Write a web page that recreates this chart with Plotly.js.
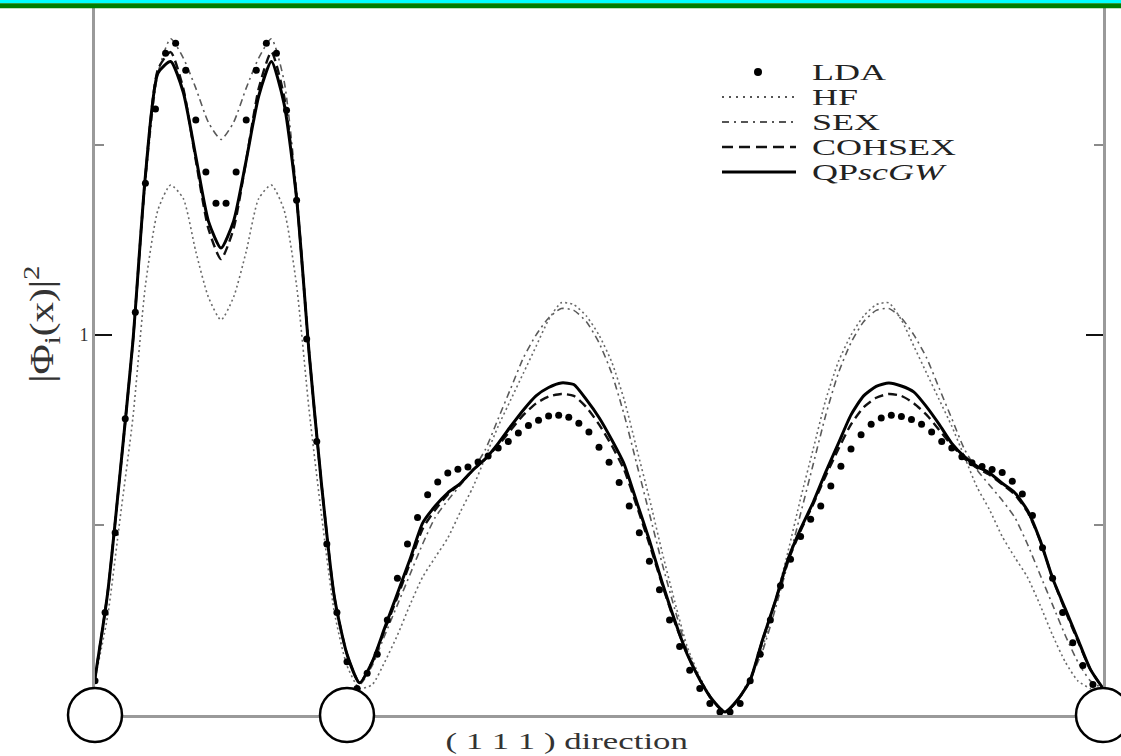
<!DOCTYPE html>
<html>
<head>
<meta charset="utf-8">
<script src="https://cdn.plot.ly/plotly-3.0.1.min.js"></script>
<style>
html,body{margin:0;padding:0;background:#fff;}
#plot{width:1121px;height:756px;}
</style>
</head>
<body>
<div id="plot"></div>
<script>
// Position along the (1 1 1) body diagonal (fraction of the diagonal)
const xLine = [0,0.0125,0.025,0.0375,0.05,0.0625,0.075,0.0875,0.1,0.1125,0.125,0.1375,0.15,0.1625,0.175,0.1875,0.2,0.2125,0.225,0.2375,
  0.25,0.2625,0.275,0.2875,0.3,0.3125,0.325,0.3375,0.35,0.3625,0.375,0.3875,0.4,0.4125,0.425,0.4375,0.45,0.4625,0.475,0.4875,
  0.5,0.5125,0.525,0.5375,0.55,0.5625,0.575,0.5875,0.6,0.6125,0.625,0.6375,0.65,0.6625,0.675,0.6875,0.7,0.7125,0.725,0.7375,
  0.75,0.7625,0.775,0.7875,0.8,0.8125,0.825,0.8375,0.85,0.8625,0.875,0.8875,0.9,0.9125,0.925,0.9375,0.95,0.9625,0.975,0.9875,1];

const hfY = [0.095,0.26,0.52,0.78,1.13,1.33,1.395,1.36,1.22,1.10,1.04,1.10,1.22,1.36,1.395,1.33,1.13,0.80,0.52,0.27,
  0.13,0.07,0.08,0.14,0.21,0.29,0.363,0.415,0.466,0.535,0.60,0.68,0.76,0.83,0.90,0.97,1.04,1.085,1.08,1.05,
  1.00,0.93,0.83,0.70,0.57,0.43,0.30,0.18,0.10,0.04,0.01,0.04,0.10,0.18,0.30,0.43,0.57,0.70,0.83,0.93,
  1.00,1.05,1.08,1.085,1.04,0.97,0.90,0.83,0.76,0.68,0.60,0.54,0.47,0.415,0.363,0.29,0.21,0.14,0.09,0.07,0.065];

const sexY = [0.095,0.32,0.64,0.98,1.40,1.69,1.78,1.73,1.65,1.56,1.515,1.56,1.65,1.73,1.78,1.67,1.38,0.96,0.60,0.31,
  0.16,0.08,0.13,0.21,0.29,0.37,0.45,0.52,0.565,0.605,0.645,0.70,0.78,0.86,0.94,1.00,1.045,1.07,1.065,1.035,
  0.98,0.90,0.79,0.66,0.53,0.40,0.28,0.17,0.095,0.035,0.008,0.035,0.095,0.17,0.28,0.40,0.53,0.66,0.79,0.90,
  0.98,1.035,1.065,1.07,1.045,1.00,0.94,0.86,0.78,0.70,0.645,0.605,0.565,0.52,0.45,0.37,0.29,0.21,0.14,0.09,0.07];

const cohsexY = [0.097,0.32,0.64,0.98,1.42,1.70,1.745,1.65,1.46,1.28,1.20,1.28,1.46,1.65,1.745,1.63,1.36,0.95,0.60,0.31,
  0.16,0.085,0.14,0.225,0.31,0.40,0.49,0.54,0.58,0.61,0.645,0.675,0.71,0.75,0.79,0.82,0.838,0.845,0.84,0.81,
  0.765,0.71,0.645,0.55,0.45,0.345,0.245,0.16,0.093,0.04,0.008,0.04,0.092,0.20,0.30,0.405,0.485,0.555,0.63,0.70,
  0.765,0.81,0.835,0.845,0.84,0.82,0.79,0.75,0.71,0.675,0.65,0.632,0.607,0.58,0.535,0.46,0.36,0.275,0.195,0.12,0.07];

const qpY = [0.097,0.32,0.64,0.98,1.42,1.69,1.72,1.64,1.47,1.30,1.229,1.30,1.46,1.63,1.72,1.61,1.36,0.95,0.60,0.31,
  0.16,0.085,0.14,0.23,0.32,0.41,0.505,0.55,0.585,0.61,0.645,0.675,0.715,0.76,0.803,0.84,0.862,0.874,0.87,0.83,
  0.783,0.725,0.66,0.56,0.46,0.35,0.25,0.16,0.093,0.04,0.008,0.04,0.092,0.20,0.30,0.41,0.49,0.56,0.64,0.715,
  0.79,0.84,0.865,0.874,0.866,0.85,0.811,0.765,0.715,0.68,0.655,0.637,0.61,0.585,0.539,0.461,0.36,0.28,0.20,0.12,0.07];

const xLDA = [0,0.01,0.02,0.03,0.04,0.05,0.06,0.07,0.08,0.09,0.1,0.11,0.12,0.13,0.14,0.15,0.16,0.17,0.18,0.19,
  0.2,0.21,0.22,0.23,0.24,0.25,0.26,0.27,0.28,0.29,0.3,0.31,0.32,0.33,0.34,0.35,0.36,0.37,0.38,0.39,
  0.4,0.41,0.42,0.43,0.44,0.45,0.46,0.47,0.48,0.49,0.5,0.51,0.52,0.53,0.54,0.55,0.56,0.57,0.58,0.59,
  0.6,0.61,0.62,0.63,0.64,0.65,0.66,0.67,0.68,0.69,0.7,0.71,0.72,0.73,0.74,0.75,0.76,0.77,0.78,0.79,
  0.8,0.81,0.82,0.83,0.84,0.85,0.86,0.87,0.88,0.89,0.9,0.91,0.92,0.93,0.94,0.95,0.96,0.97,0.98,0.99,1];

const ldaY = [0.09,0.27,0.48,0.78,1.06,1.40,1.595,1.742,1.768,1.697,1.566,1.429,1.347,1.347,1.429,1.566,1.697,1.768,1.742,1.592,
  1.355,0.99,0.72,0.45,0.27,0.14,0.07,0.11,0.16,0.25,0.36,0.45,0.52,0.58,0.613,0.637,0.647,0.653,0.666,0.682,
  0.703,0.72,0.742,0.762,0.776,0.787,0.789,0.784,0.768,0.745,0.705,0.665,0.612,0.55,0.48,0.405,0.33,0.25,0.18,0.118,
  0.07,0.03,0.008,0.008,0.03,0.09,0.16,0.25,0.34,0.41,0.47,0.515,0.55,0.603,0.655,0.70,0.738,0.765,0.782,0.789,
  0.786,0.778,0.765,0.745,0.72,0.703,0.68,0.664,0.654,0.646,0.638,0.615,0.582,0.525,0.44,0.36,0.27,0.19,0.13,0.08,0.06];

// atom sites on the diagonal
const atomX = [0, 0.25, 1];
const atomY = [0, 0, 0];

const seriesNames = ['LDA','HF','SEX','COHSEX','QP<i>scGW</i>'];
const yTitleText = '|Φ<sub>i</sub>(x)|<sup>2</sup>';
const xTitleText = '( 1 1 1 ) direction';
const yTickVals = [1];
const yTickText = ['1'];
const yMinorVals = [0.5, 1.5];

// ---- geometry helpers (pixel -> paper) ----
const L = 95, R = 18, T = 8, B = 41, W = 1121, H = 756;
const PW = W - L - R, PH = H - T - B;
const px = x => (x - L) / PW;
const py = y => (H - B - y) / PH;

const FONT = 'Liberation Serif, Times New Roman, serif';

const traces = [
  {x:xLine, y:hfY, name:seriesNames[1], mode:'lines', line:{color:'#6a6a6a', width:1.6, dash:'2px,3px', shape:'spline', smoothing:0.6}, hoverinfo:'skip'},
  {x:xLine, y:sexY, name:seriesNames[2], mode:'lines', line:{color:'#5a5a5a', width:1.6, dash:'7px,4px,2px,4px', shape:'spline', smoothing:0.6}, hoverinfo:'skip'},
  {x:xLine, y:cohsexY, name:seriesNames[3], mode:'lines', line:{color:'#111', width:2.4, dash:'9px,5px', shape:'spline', smoothing:0.6}, hoverinfo:'skip'},
  {x:xLine, y:qpY, name:seriesNames[4], mode:'lines', line:{color:'#000', width:3, shape:'spline', smoothing:0.6}, hoverinfo:'skip'},
  {x:xLDA, y:ldaY, name:seriesNames[0], mode:'markers', marker:{color:'#000', size:7, symbol:'circle'}, hoverinfo:'skip'},
  {x:atomX, y:atomY, name:'atoms', mode:'markers', cliponaxis:false, marker:{symbol:'circle', size:54, color:'#fff', line:{color:'#000', width:2.5}}, hoverinfo:'skip'}
];

// manual legend layout
const legRows = [72, 97, 122, 147, 172];
const legLineX0 = 722, legLineX1 = 796, legTextX = 810;
const legStyles = [
  null,
  {color:'#555', width:1.8, dash:'2px,5px'},
  {color:'#555', width:1.8, dash:'7px,5px,2px,5px'},
  {color:'#111', width:2.6, dash:'11px,6px'},
  {color:'#000', width:3}
];

const shapes = [
  {type:'rect', xref:'paper', yref:'paper', x0:-0.2, x1:1.2, y0:py(3.3), y1:py(-5), fillcolor:'#00ffff', line:{width:0}, layer:'above'},
  {type:'rect', xref:'paper', yref:'paper', x0:-0.2, x1:1.2, y0:py(8.3), y1:py(3.3), fillcolor:'#007d00', line:{width:0}, layer:'above'},
  {type:'circle', xref:'paper', yref:'paper', x0:px(754), x1:px(762), y0:py(legRows[0]+4), y1:py(legRows[0]-4), fillcolor:'#000', line:{width:0}}
];
for (let i = 1; i < 5; i++) {
  shapes.push({type:'line', xref:'paper', yref:'paper', x0:px(legLineX0), x1:px(legLineX1), y0:py(legRows[i]), y1:py(legRows[i]), line:legStyles[i]});
}

const annotations = [
  {text:yTitleText, xref:'paper', yref:'paper', x:px(41), y:py(324), textangle:-90, showarrow:false,
   font:{family:FONT, size:33, color:'#333'}, xanchor:'center', yanchor:'middle'},
  {text:xTitleText, xref:'paper', yref:'paper', x:px(566), y:py(741), showarrow:false,
   font:{family:FONT, size:24, color:'#333'}, xanchor:'center', yanchor:'middle'}
];
for (let i = 0; i < 5; i++) {
  annotations.push({text:seriesNames[i], xref:'paper', yref:'paper', x:px(legTextX), y:py(legRows[i]), showarrow:false,
    xanchor:'left', yanchor:'middle', align:'left', font:{family:FONT, size:24, color:'#222'}});
}

const layout = {
  width:W, height:H,
  margin:{l:L, r:R, t:T, b:B, pad:0},
  paper_bgcolor:'#fff', plot_bgcolor:'#fff',
  showlegend:false,
  font:{family:FONT, color:'#222'},
  xaxis:{range:[0,1], showline:true, linecolor:'#9a9a9a', linewidth:3, ticks:'', showticklabels:false,
         showgrid:false, zeroline:false, layer:'below traces', fixedrange:true},
  yaxis:{range:[0,1.861], showline:true, mirror:'ticks', linecolor:'#9a9a9a', linewidth:3,
         ticks:'inside', tickmode:'array', tickvals:yTickVals, ticktext:yTickText, ticklen:17, tickwidth:2, tickcolor:'#111',
         tickfont:{family:FONT, size:18, color:'#333'},
         minor:{tickmode:'array', tickvals:yMinorVals, ticks:'inside', ticklen:9, tickwidth:2, tickcolor:'#8a8a8a', showgrid:false},
         showgrid:false, zeroline:false, layer:'below traces', fixedrange:true},
  shapes:shapes,
  annotations:annotations
};

// the source figure's lettering is stretched along the reading direction
const textScale = {'LDA':1.5, 'HF':1.5, 'SEX':1.5, 'COHSEX':1.5, 'QPscGW':1.5,
                   '( 1 1 1 ) direction':1.45, '|Φi(x)|2':1.25};

Plotly.newPlot('plot', traces, layout, {staticPlot:true, displayModeBar:false}).then(gd => {
  gd.querySelectorAll('.annotation-text').forEach(el => {
    const key = el.textContent.replace(/[\u200b\u200c\u200d]/g, '');
    const s = textScale[key];
    if (!s) return;
    const bb = el.getBBox();
    const anchor = el.getAttribute('text-anchor');
    const cx = anchor === 'start' ? bb.x : (anchor === 'end' ? bb.x + bb.width : bb.x + bb.width / 2);
    const prev = el.getAttribute('transform') || '';
    el.setAttribute('transform', prev + ' translate(' + cx + ',0) scale(' + s + ',1) translate(' + (-cx) + ',0)');
  });
});
</script>
</body>
</html>
